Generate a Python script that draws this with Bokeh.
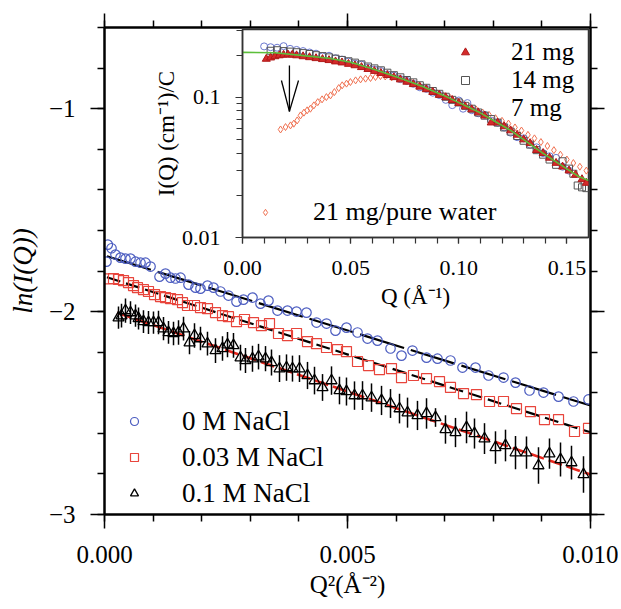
import numpy as np
from bokeh.plotting import figure
from bokeh.layouts import column
from bokeh.models import (Range1d, LinearAxis, SingleIntervalTicker, FixedTicker,
                          PrintfTickFormatter, CustomJSTickFormatter, Legend, LegendItem)
from bokeh.embed import file_html
from bokeh.resources import INLINE

# ---------------- main plot data: ln I(Q) vs Q^2 ----------------
q2_0 = [0.000040, 0.000068, 0.000144, 0.000226, 0.000329, 0.000432, 0.000535, 0.000638, 0.000741,
        0.000844, 0.000947, 0.001132, 0.001255, 0.001358, 0.001461, 0.001564, 0.001728, 0.001872,
        0.001975, 0.002119, 0.002243, 0.002387, 0.002551, 0.002716, 0.002860, 0.003045, 0.003210,
        0.003374, 0.003560, 0.003765, 0.003951, 0.004156, 0.004362, 0.004568, 0.004753, 0.004979,
        0.005206, 0.005412, 0.005617, 0.005885, 0.006111, 0.006337, 0.006626, 0.006852, 0.007119,
        0.007366, 0.007634, 0.007901, 0.008210, 0.008457, 0.008745, 0.009033, 0.009342, 0.009650,
        0.009959]
ln_0 = [-1.754, -1.670, -1.688, -1.719, -1.734, -1.739, -1.739, -1.754, -1.759, -1.759, -1.778,
        -1.828, -1.813, -1.833, -1.837, -1.833, -1.867, -1.882, -1.887, -1.872, -1.882, -1.901,
        -1.921, -1.951, -1.941, -1.931, -1.961, -1.946, -1.995, -1.995, -2.000, -2.005, -2.054,
        -2.059, -2.094, -2.079, -2.103, -2.133, -2.143, -2.182, -2.217, -2.192, -2.227, -2.232,
        -2.241, -2.276, -2.276, -2.315, -2.325, -2.350, -2.389, -2.399, -2.419, -2.443, -2.433]

q2_003 = [0.000088, 0.000185, 0.000288, 0.000391, 0.000494, 0.000597, 0.000679, 0.000802, 0.000905,
          0.001029, 0.001152, 0.001255, 0.001358, 0.001502, 0.001605, 0.001708, 0.001852, 0.001975,
          0.002119, 0.002284, 0.002428, 0.002551, 0.002716, 0.002881, 0.003066, 0.003230, 0.003395,
          0.003580, 0.003765, 0.003951, 0.004177, 0.004362, 0.004568, 0.004794, 0.004979, 0.005206,
          0.005432, 0.005658, 0.005905, 0.006111, 0.006358, 0.006626, 0.006893, 0.007119, 0.007387,
          0.007654, 0.007922, 0.008210, 0.008477, 0.008765, 0.009053, 0.009342, 0.009671, 0.009959]
ln_003 = [-1.839, -1.837, -1.842, -1.847, -1.857, -1.872, -1.882, -1.892, -1.901, -1.916, -1.926,
          -1.931, -1.936, -1.941, -1.956, -1.970, -1.970, -1.980, -1.985, -2.005, -2.020, -2.025,
          -2.049, -2.039, -2.054, -2.069, -2.059, -2.108, -2.118, -2.108, -2.148, -2.158, -2.177,
          -2.187, -2.197, -2.246, -2.266, -2.286, -2.281, -2.325, -2.315, -2.330, -2.345, -2.374,
          -2.404, -2.409, -2.443, -2.443, -2.478, -2.493, -2.532, -2.532, -2.591, -2.576]

q2_01 = [0.000288, 0.000350, 0.000432, 0.000535, 0.000638, 0.000700, 0.000802, 0.000905, 0.001008,
         0.001111, 0.001214, 0.001317, 0.001420, 0.001523, 0.001626, 0.001749, 0.001852, 0.001975,
         0.002119, 0.002284, 0.002428, 0.002531, 0.002654, 0.002798, 0.002901, 0.003045, 0.003169,
         0.003313, 0.003436, 0.003601, 0.003745, 0.003868, 0.004012, 0.004177, 0.004321, 0.004486,
         0.004671, 0.004835, 0.004979, 0.005144, 0.005309, 0.005494, 0.005700, 0.005885, 0.006070,
         0.006235, 0.006440, 0.006626, 0.006811, 0.007016, 0.007222, 0.007449, 0.007613, 0.007819,
         0.008045, 0.008251, 0.008457, 0.008683, 0.008930, 0.009156, 0.009383, 0.009609, 0.009856]
ln_01 = [-2.030, -2.020, -1.995, -2.005, -2.020, -2.034, -2.049, -2.054, -2.054, -2.054, -2.084,
         -2.103, -2.108, -2.103, -2.084, -2.153, -2.118, -2.133, -2.158, -2.192, -2.182, -2.163,
         -2.167, -2.227, -2.241, -2.232, -2.222, -2.232, -2.251, -2.281, -2.276, -2.281, -2.281,
         -2.315, -2.340, -2.374, -2.340, -2.389, -2.394, -2.414, -2.414, -2.424, -2.438, -2.453,
         -2.478, -2.498, -2.512, -2.502, -2.522, -2.581, -2.596, -2.571, -2.601, -2.626, -2.670,
         -2.660, -2.695, -2.695, -2.759, -2.700, -2.729, -2.744, -2.803]
err_01 = [0.055, 0.058, 0.060, 0.056, 0.055, 0.054, 0.056, 0.057, 0.055, 0.058,
          0.057, 0.056, 0.058, 0.060, 0.059, 0.057, 0.060, 0.058, 0.059, 0.061,
          0.060, 0.062, 0.061, 0.063, 0.062, 0.064, 0.063, 0.062, 0.064, 0.066,
          0.065, 0.064, 0.066, 0.067, 0.068, 0.066, 0.070, 0.068, 0.069, 0.070,
          0.071, 0.070, 0.072, 0.071, 0.073, 0.074, 0.072, 0.075, 0.046, 0.070,
          0.072, 0.078, 0.074, 0.076, 0.080, 0.078, 0.082, 0.080, 0.090, 0.075,
          0.084, 0.083, 0.090]

# linear Guinier fits (end points)
fit_x_0 = [0.00005, 0.0100]
fit_y_0 = [-1.727, -2.463]
fit_x_003 = [0.00005, 0.0100]
fit_y_003 = [-1.831, -2.595]
fit_x_01 = [0.00026, 0.0100]
fit_y_01 = [-2.006, -2.803]

# ---------------- inset data: I(Q)/C vs Q ----------------
q_21 = [0.011, 0.013, 0.015, 0.017, 0.019, 0.021, 0.023, 0.025, 0.028, 0.031, 0.034, 0.037, 0.040,
        0.043, 0.046, 0.049, 0.052, 0.055, 0.058, 0.061, 0.064, 0.067, 0.070, 0.073, 0.076, 0.079,
        0.082, 0.085, 0.088, 0.091, 0.094, 0.097, 0.100, 0.103, 0.106, 0.109, 0.112, 0.115, 0.118,
        0.121, 0.124, 0.127, 0.130, 0.133, 0.136, 0.139, 0.142, 0.145, 0.148, 0.151, 0.154, 0.157,
        0.159]
i_21 = [0.188, 0.192, 0.196, 0.199, 0.201, 0.202, 0.201, 0.199, 0.196, 0.193, 0.190, 0.187, 0.184,
        0.180, 0.177, 0.173, 0.169, 0.164, 0.159, 0.154, 0.149, 0.144, 0.139, 0.134, 0.129, 0.124,
        0.119, 0.114, 0.109, 0.104, 0.100, 0.0955, 0.091, 0.086, 0.082, 0.078, 0.074, 0.066, 0.066,
        0.062, 0.058, 0.054, 0.050, 0.047, 0.042, 0.040, 0.037, 0.034, 0.032, 0.030, 0.028, 0.026,
        0.0245]

q_14 = [0.013, 0.016, 0.019, 0.022, 0.025, 0.028, 0.031, 0.034, 0.037, 0.040, 0.043, 0.046, 0.049,
        0.052, 0.055, 0.058, 0.061, 0.064, 0.067, 0.070, 0.073, 0.076, 0.079, 0.082, 0.085, 0.088,
        0.091, 0.094, 0.097, 0.100, 0.103, 0.106, 0.109, 0.112, 0.115, 0.118, 0.121, 0.124, 0.127,
        0.130, 0.133, 0.136, 0.139, 0.142, 0.145, 0.148, 0.151, 0.153, 0.155, 0.157, 0.159]
i_14 = [0.215, 0.217, 0.214, 0.212, 0.210, 0.207, 0.204, 0.200, 0.197, 0.193, 0.189, 0.185, 0.181,
        0.177, 0.172, 0.166, 0.161, 0.156, 0.150, 0.144, 0.139, 0.133, 0.128, 0.122, 0.117, 0.111,
        0.106, 0.101, 0.096, 0.092, 0.087, 0.083, 0.078, 0.074, 0.070, 0.066, 0.061, 0.057, 0.053,
        0.049, 0.046, 0.042, 0.039, 0.036, 0.033, 0.035, 0.031, 0.0285, 0.0235, 0.0228, 0.0225]

q_7 = [0.010, 0.013, 0.016, 0.019, 0.022, 0.025, 0.028, 0.031, 0.034, 0.037, 0.040, 0.043, 0.046,
       0.049, 0.052, 0.055, 0.058, 0.061, 0.064, 0.067, 0.070, 0.073, 0.076, 0.079, 0.082, 0.085,
       0.088, 0.091, 0.094, 0.097, 0.100, 0.102, 0.104, 0.106, 0.109, 0.112, 0.115, 0.118, 0.121,
       0.124, 0.127, 0.130, 0.133, 0.136, 0.139, 0.142, 0.145, 0.148, 0.151]
i_7 = [0.231, 0.228, 0.226, 0.232, 0.222, 0.218, 0.214, 0.209, 0.205, 0.196, 0.198, 0.190, 0.186,
       0.180, 0.174, 0.171, 0.163, 0.158, 0.154, 0.146, 0.143, 0.135, 0.131, 0.125, 0.118, 0.115,
       0.108, 0.104, 0.096, 0.088, 0.095, 0.083, 0.091, 0.081, 0.077, 0.075, 0.068, 0.066, 0.061,
       0.056, 0.052, 0.051, 0.046, 0.044, 0.040, 0.038, 0.037, 0.032, 0.030]

q_pw = [0.0176, 0.0199, 0.0222, 0.0237, 0.0253, 0.0268, 0.0284, 0.0299, 0.0314, 0.0330, 0.0348,
        0.0368, 0.0388, 0.0407, 0.0425, 0.0445, 0.0461, 0.0481, 0.0499, 0.0523, 0.0546, 0.0569,
        0.0592, 0.0615, 0.0638, 0.066, 0.069, 0.072, 0.075, 0.078, 0.081, 0.084, 0.087, 0.090,
        0.093, 0.096, 0.099, 0.102, 0.105, 0.108, 0.111, 0.114, 0.117, 0.120, 0.123, 0.126, 0.129,
        0.132, 0.135, 0.138, 0.141, 0.144, 0.147, 0.150, 0.153, 0.156, 0.159]
i_pw = [0.0590, 0.0614, 0.0631, 0.0649, 0.0685, 0.0743, 0.0778, 0.0808, 0.0830, 0.0877, 0.0925,
        0.0968, 0.1005, 0.1033, 0.1091, 0.1165, 0.1219, 0.1253, 0.1286, 0.1322, 0.1344, 0.1360,
        0.1375, 0.1397, 0.1419, 0.141, 0.139, 0.136, 0.132, 0.127, 0.122, 0.117, 0.112, 0.107,
        0.103, 0.099, 0.094, 0.090, 0.086, 0.082, 0.078, 0.075, 0.071, 0.068, 0.065, 0.061, 0.058,
        0.054, 0.051, 0.048, 0.045, 0.042, 0.039, 0.036, 0.034, 0.032, 0.030]

fit_q = [0.0, 0.015, 0.027, 0.040, 0.050, 0.060, 0.073, 0.083, 0.093, 0.1087, 0.124, 0.139, 0.155, 0.160]
fit_i = [0.2095, 0.208, 0.1995, 0.190, 0.178, 0.160, 0.1367, 0.120, 0.1033, 0.0794, 0.0581, 0.0398,
         0.0275, 0.0255]

# arrow (shaft + two head strokes), data coordinates of the inset
arrow_q0 = [0.0217, 0.0180, 0.0259]
arrow_i0 = [0.169, 0.132, 0.132]
arrow_q1 = [0.0217, 0.0217, 0.0217]
arrow_i1 = [0.0794, 0.0794, 0.0794]

SERIF = "Liberation Serif"
BLUE = "#4b5cc0"
RED = "#e8453c"

# ---------------- main figure ----------------
p = figure(frame_width=486, frame_height=487, x_range=Range1d(0, 0.010), y_range=Range1d(-3, -0.6),
           output_backend="svg", toolbar_location=None,
           min_border_left=102, min_border_right=30, min_border_top=27, min_border_bottom=60,
           background_fill_color="white", border_fill_color="white")
p.outline_line_color = None
p.xgrid.visible = False
p.ygrid.visible = False


def style_main(ax):
    ax.axis_line_color = "black"
    ax.axis_line_width = 2.5
    ax.major_tick_in = 0
    ax.major_tick_out = 14
    ax.minor_tick_in = 0
    ax.minor_tick_out = 7
    ax.major_tick_line_color = "black"
    ax.minor_tick_line_color = "black"
    ax.major_tick_line_width = 1.5
    ax.minor_tick_line_width = 1.5
    ax.major_label_text_font = SERIF
    ax.major_label_text_font_size = "25px"
    ax.major_label_text_color = "black"
    ax.axis_label_text_font = SERIF
    ax.axis_label_text_font_size = "25px"
    ax.axis_label_text_color = "black"
    ax.axis_label_text_font_style = "normal"


xb = p.below[0]
yl = p.left[0]
xb.ticker = SingleIntervalTicker(interval=0.005, num_minor_ticks=5)
xb.formatter = PrintfTickFormatter(format="%.3f")
yl.ticker = SingleIntervalTicker(interval=1, num_minor_ticks=5)
style_main(xb)
style_main(yl)
xb.axis_label = "Q²(Å⁻²)"
xb.major_label_standoff = 17
xb.axis_label_standoff = 5
yl.axis_label = "ln(I(Q))"
yl.axis_label_text_font_style = "italic"
yl.axis_label_text_font_size = "27px"
yl.major_label_standoff = 15
yl.axis_label_standoff = 8

empty = CustomJSTickFormatter(code="return ''")
ax_top = LinearAxis(ticker=SingleIntervalTicker(interval=0.005, num_minor_ticks=5), formatter=empty)
ax_right = LinearAxis(ticker=SingleIntervalTicker(interval=1, num_minor_ticks=5), formatter=empty)
for ax in (ax_top, ax_right):
    style_main(ax)
    ax.major_label_standoff = 0
    ax.major_label_text_font_size = "1px"
p.add_layout(ax_top, "above")
p.add_layout(ax_right, "right")

# fit lines
p.line(fit_x_0, fit_y_0, line_color="black", line_width=2.2, line_dash="46 7")
p.line(fit_x_003, fit_y_003, line_color="black", line_width=2.2, line_dash="14 6")
p.line(fit_x_01, fit_y_01, line_color="#e8281e", line_width=2.6, line_dash="14 5")

# error bars for 0.1 M
lo = list(np.array(ln_01) - np.array(err_01))
hi = list(np.array(ln_01) + np.array(err_01))
p.segment(x0=q2_01, y0=lo, x1=q2_01, y1=hi, line_color="black", line_width=1.5)

r0 = p.scatter(q2_0, ln_0, marker="circle", size=9.5, fill_color=None, line_color=BLUE, line_width=1.2)
r1 = p.scatter(q2_003, ln_003, marker="square", size=10, fill_color=None, line_color=RED, line_width=1.2)
r2 = p.scatter(q2_01, ln_01, marker="triangle", size=11, fill_color=None, line_color="black", line_width=1.3)

leg = Legend(items=[LegendItem(label="0 M NaCl", renderers=[r0]),
                    LegendItem(label="0.03 M NaCl", renderers=[r1]),
                    LegendItem(label="0.1 M NaCl", renderers=[r2])],
             location=(20, 3), glyph_width=20, glyph_height=36, label_height=36,
             label_standoff=38, spacing=0, padding=0, margin=0,
             border_line_color=None, background_fill_alpha=0,
             label_text_font=SERIF, label_text_font_size="27px", label_text_color="black")
p.add_layout(leg)

# ---------------- inset ----------------
ins = figure(frame_width=346, frame_height=208, x_range=Range1d(0, 0.16), y_range=Range1d(0.01, 0.305),
             y_axis_type="log", output_backend="svg", toolbar_location=None,
             min_border_left=104, min_border_right=5, min_border_top=7, min_border_bottom=40,
             background_fill_color="white", border_fill_alpha=0,
             styles={"position": "absolute", "left": "138px", "top": "22px"})
ins.xgrid.visible = False
ins.ygrid.visible = False
ins.outline_line_color = "#333333"
ins.outline_line_width = 1.5

ixb = ins.below[0]
iyl = ins.left[0]
ixb.ticker = SingleIntervalTicker(interval=0.05, num_minor_ticks=5)
ixb.formatter = PrintfTickFormatter(format="%.2f")
iyl.ticker = FixedTicker(ticks=[0.01, 0.1],
                         minor_ticks=[0.02, 0.03, 0.04, 0.05, 0.06, 0.07, 0.08, 0.09, 0.2, 0.3])
iyl.formatter = CustomJSTickFormatter(code="return tick.toString()")
for ax in (ixb, iyl):
    ax.axis_line_color = "#333333"
    ax.axis_line_width = 1.5
    ax.major_tick_in = 0
    ax.minor_tick_in = 0
    ax.major_tick_line_color = "#333333"
    ax.minor_tick_line_color = "#333333"
    ax.major_tick_line_width = 1.2
    ax.minor_tick_line_width = 1.2
    ax.major_label_text_font = SERIF
    ax.major_label_text_font_size = "22px"
    ax.major_label_text_color = "black"
    ax.axis_label_text_font = SERIF
    ax.axis_label_text_font_size = "23px"
    ax.axis_label_text_color = "black"
    ax.axis_label_text_font_style = "normal"
ixb.major_tick_out = 6
ixb.minor_tick_out = 6
iyl.major_tick_out = 7
iyl.minor_tick_out = 6
ixb.major_label_standoff = 17
ixb.axis_label_standoff = 6
iyl.major_label_standoff = 15
iyl.axis_label_standoff = 0
ixb.axis_label = "Q (Å⁻¹)"
iyl.axis_label = "I(Q) (cm⁻¹)/C"

rpw = ins.scatter(q_pw, i_pw, marker="diamond", size=7, fill_color=None, line_color="#f07050", line_width=1)
r7 = ins.scatter(q_7, i_7, marker="circle", size=7, fill_color=None, line_color="#6b78d0", line_width=1)
r14 = ins.scatter(q_14, i_14, marker="square", size=7, fill_color=None, line_color="#555555", line_width=1)
r21 = ins.scatter(q_21, i_21, marker="triangle", size=8, fill_color="#d42a2a", line_color="#b01818", line_width=1)
ins.line(fit_q, fit_i, line_color="#5cbf3a", line_width=1.6)
ins.segment(x0=arrow_q0, y0=arrow_i0, x1=arrow_q1, y1=arrow_i1, line_color="black", line_width=1.3)

r7_key = ins.scatter([], [], marker="circle", size=7, fill_alpha=0, line_alpha=0)

ileg1 = Legend(items=[LegendItem(label="21 mg", renderers=[r21]),
                      LegendItem(label="14 mg", renderers=[r14]),
                      LegendItem(label="7 mg", renderers=[r7_key])],
               location=(213, 115), glyph_width=20, glyph_height=28, label_height=28,
               label_standoff=36, spacing=0, padding=0, margin=0,
               border_line_color=None, background_fill_alpha=0,
               label_text_font=SERIF, label_text_font_size="25px", label_text_color="black")
ileg2 = Legend(items=[LegendItem(label="21 mg/pure water", renderers=[rpw])],
               location=(15, 10), glyph_width=16, glyph_height=28, label_height=28,
               label_standoff=40, spacing=0, padding=0, margin=0,
               border_line_color=None, background_fill_alpha=0,
               label_text_font=SERIF, label_text_font_size="26px", label_text_color="black")
ins.add_layout(ileg1)
ins.add_layout(ileg2)

layout = column(p, ins)
open("out.html", "w").write(file_html(layout, INLINE))
